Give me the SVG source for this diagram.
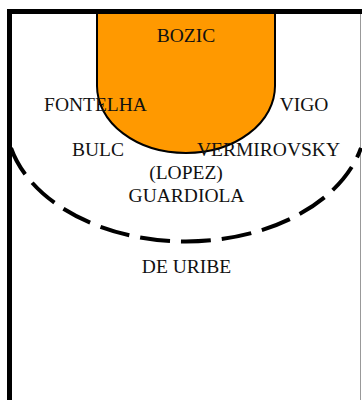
<svg xmlns="http://www.w3.org/2000/svg" width="362" height="400" viewBox="0 0 362 400">
  <style>
    .lbl { font-family: "Liberation Serif", "Times New Roman", serif; font-size: 19.5px; fill: #111; text-anchor: middle; }
    .court { fill: none; stroke: #000; stroke-width: 5; }
    .key { fill: #ff9900; stroke: #000; stroke-width: 2; }
    .arc3 { fill: none; stroke: #000; stroke-width: 4; stroke-dasharray: 30 11; }
  </style>
  <rect x="0" y="0" width="362" height="400" fill="#fff"/>
  <g id="court">
    <line x1="360.5" y1="14" x2="360.5" y2="400" stroke="#999" stroke-width="1"/>
    <path id="key" class="key" d="M97,12 V86 A89,67 0 0 0 275,86 V12"/>
    <path id="three-point" class="arc3" d="M11,148 A180,122 0 0 0 361,148"/>
    <path class="court" d="M9.5,400 V11.5 H362"/>
  </g>
  <g id="players">
    <g id="bozic"><text class="lbl" x="186" y="42">BOZIC</text></g>
    <g id="fontelha"><text class="lbl" x="95.5" y="111">FONTELHA</text></g>
    <g id="vigo"><text class="lbl" x="304" y="111">VIGO</text></g>
    <g id="bulc"><text class="lbl" x="98" y="156">BULC</text></g>
    <g id="vermirovsky"><text class="lbl" x="268.5" y="156">VERMIROVSKY</text></g>
    <g id="lopez"><text class="lbl" x="186" y="179">(LOPEZ)</text></g>
    <g id="guardiola"><text class="lbl" x="186.5" y="202">GUARDIOLA</text></g>
    <g id="de-uribe"><text class="lbl" x="186.5" y="273">DE URIBE</text></g>
  </g>
</svg>
